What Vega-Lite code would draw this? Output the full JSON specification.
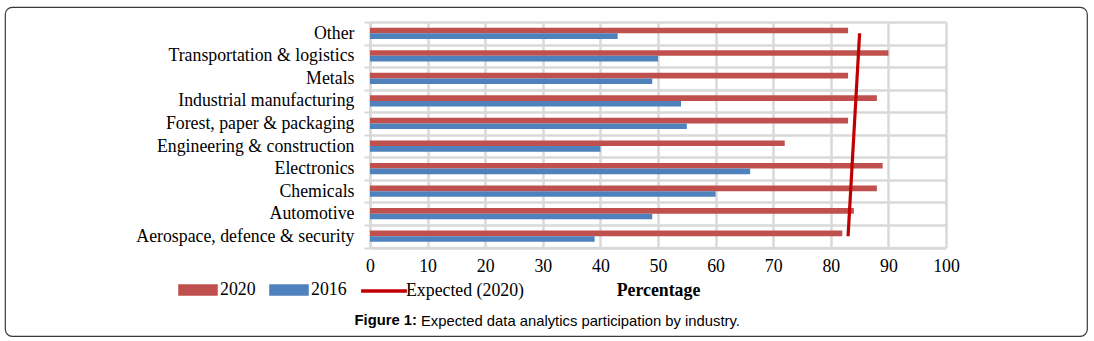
{
  "$schema": "https://vega.github.io/schema/vega-lite/v6.json",
  "width": 1082,
  "height": 329,
  "autosize": {"type": "none"},
  "padding": {"left": 5, "top": 7, "right": 7, "bottom": 5},
  "background": "white",
  "config": {
    "view": {"stroke": "#3a3a3a", "strokeWidth": 1.2, "cornerRadius": 7},
    "font": "Liberation Serif"
  },
  "title": {
    "text": "Expected data analytics participation by industry.",
    "orient": "bottom",
    "anchor": "start",
    "frame": "group",
    "dx": 416,
    "offset": -22,
    "font": "Liberation Sans",
    "fontSize": 14.8,
    "fontWeight": "normal",
    "color": "#000000"
  },
  "datasets": {
    "bars": [
      {"industry": "Other", "series": "2020", "value": 83},
      {"industry": "Other", "series": "2016", "value": 43},
      {"industry": "Transportation & logistics", "series": "2020", "value": 90},
      {"industry": "Transportation & logistics", "series": "2016", "value": 50},
      {"industry": "Metals", "series": "2020", "value": 83},
      {"industry": "Metals", "series": "2016", "value": 49},
      {"industry": "Industrial manufacturing", "series": "2020", "value": 88},
      {"industry": "Industrial manufacturing", "series": "2016", "value": 54},
      {"industry": "Forest, paper & packaging", "series": "2020", "value": 83},
      {"industry": "Forest, paper & packaging", "series": "2016", "value": 55},
      {"industry": "Engineering & construction", "series": "2020", "value": 72},
      {"industry": "Engineering & construction", "series": "2016", "value": 40},
      {"industry": "Electronics", "series": "2020", "value": 89},
      {"industry": "Electronics", "series": "2016", "value": 66},
      {"industry": "Chemicals", "series": "2020", "value": 88},
      {"industry": "Chemicals", "series": "2016", "value": 60},
      {"industry": "Automotive", "series": "2020", "value": 84},
      {"industry": "Automotive", "series": "2016", "value": 49},
      {"industry": "Aerospace, defence & security", "series": "2020", "value": 82},
      {"industry": "Aerospace, defence & security", "series": "2016", "value": 39}
    ],
    "expected": [
      {"industry": "Other", "value": 85},
      {"industry": "Aerospace, defence & security", "value": 83}
    ]
  },
  "resolve": {"axis": {"x": "independent"}},
  "layer": [
    {
      "data": {"name": "bars"},
      "mark": {"type": "bar"},
      "encoding": {
        "y": {
          "field": "industry",
          "type": "nominal",
          "sort": ["Other", "Transportation & logistics", "Metals", "Industrial manufacturing", "Forest, paper & packaging", "Engineering & construction", "Electronics", "Chemicals", "Automotive", "Aerospace, defence & security"],
          "scale": {"range": [15, 240.5], "paddingInner": 0, "paddingOuter": 0},
          "axis": {
            "title": "Figure 1:",
            "titleX": -16,
            "titleY": 313.5,
            "titleAngle": 0,
            "titleAlign": "left",
            "titleBaseline": "middle",
            "titleFont": "Liberation Sans",
            "titleFontSize": 14.8,
            "titleFontWeight": "bold",
            "titleColor": "#000000",
            "tickBand": "extent",
            "grid": true,
            "gridColor": "#d9d9d9",
            "gridWidth": 2.5,
            "domainColor": "#d9d9d9",
            "domainWidth": 2.5,
            "tickColor": "#d9d9d9",
            "tickWidth": 2,
            "tickSize": 6,
            "labelPadding": 10,
            "labelFont": "Liberation Serif",
            "labelFontSize": 17.8,
            "labelColor": "#000000",
            "labelLimit": 400,
            "offset": -365
          }
        },
        "yOffset": {
          "field": "series",
          "sort": ["2020", "2016"],
          "scale": {"paddingInner": 0, "paddingOuter": 1.2}
        },
        "x": {
          "field": "value",
          "type": "quantitative",
          "scale": {"domain": [0, 100], "range": [365, 941], "nice": false},
          "axis": {
            "orient": "top",
            "title": null,
            "values": [0, 10, 20, 30, 40, 50, 60, 70, 80, 90, 100],
            "grid": true,
            "gridColor": "#d9d9d9",
            "gridWidth": 2.5,
            "domain": false,
            "ticks": false,
            "labels": false
          }
        },
        "color": {
          "field": "series",
          "type": "nominal",
          "scale": {"domain": ["2020", "2016", "Expected (2020)"], "range": ["#c0504d", "#4f81bd", "#c00000"]},
          "legend": {
            "orient": "none",
            "legendX": 173,
            "legendY": 263,
            "direction": "horizontal",
            "title": null,
            "padding": 0,
            "labelFont": "Liberation Serif",
            "labelFontSize": 17.8,
            "labelColor": "#000000",
            "labelOffset": 2,
            "columnPadding": 7,
            "symbolSize": 1300,
            "symbolStrokeWidth": 3.5,
            "encode": {
              "symbols": {
                "update": {
                  "shape": {"signal": "datum.value === 'Expected (2020)' ? 'stroke' : 'M-1,-0.22H1V0.22H-1Z'"},
                  "size": {"signal": "datum.value === 'Expected (2020)' ? 2100 : 1300"},
                  "fill": {"signal": "datum.value === 'Expected (2020)' ? 'transparent' : scale('color', datum.value)"},
                  "stroke": {"signal": "datum.value === 'Expected (2020)' ? '#c00000' : 'transparent'"},
                  "strokeWidth": {"value": 3.5},
                  "opacity": {"value": 1},
                  "fillOpacity": {"value": 1}
                }
              }
            }
          }
        }
      }
    },
    {
      "data": {"name": "expected"},
      "mark": {"type": "line", "strokeWidth": 3.2},
      "encoding": {
        "y": {
          "field": "industry",
          "type": "nominal",
          "sort": ["Other", "Transportation & logistics", "Metals", "Industrial manufacturing", "Forest, paper & packaging", "Engineering & construction", "Electronics", "Chemicals", "Automotive", "Aerospace, defence & security"]
        },
        "x": {
          "field": "value",
          "type": "quantitative",
          "axis": {
            "orient": "bottom",
            "title": "Percentage",
            "values": [0, 10, 20, 30, 40, 50, 60, 70, 80, 90, 100],
            "grid": false,
            "domainColor": "#d9d9d9",
            "domainWidth": 2.5,
            "ticks": false,
            "tickSize": 0,
            "labelFlush": false,
            "labelPadding": 10,
            "labelFont": "Liberation Serif",
            "labelFontSize": 17.8,
            "labelColor": "#000000",
            "titleFont": "Liberation Serif",
            "titleFontSize": 17.8,
            "titleFontWeight": "bold",
            "titleColor": "#000000",
            "titlePadding": 6,
            "offset": -88.5
          }
        },
        "color": {"datum": "Expected (2020)"}
      }
    }
  ]
}
